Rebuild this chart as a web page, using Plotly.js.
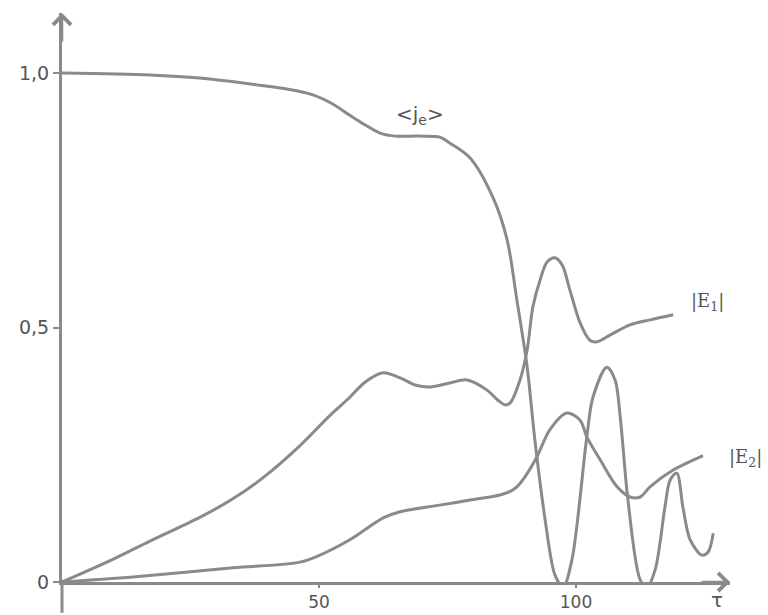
<!DOCTYPE html>
<html>
<head>
<meta charset="utf-8">
<script src="https://cdn.plot.ly/plotly-3.0.1.min.js"></script>
<style>html,body{margin:0;padding:0;background:#fff;}#chart{width:768px;height:615px;}</style>
</head>
<body>
<div id="chart"></div>
<script>
// <j_e> curve
const tauJe = [0, 17.1, 26.8, 38.5, 44.0, 48.8, 52.5, 56.0, 59.0, 61.9, 64.8, 69.6, 73.5, 75.5, 79.4, 83.9, 86.6, 88.5, 90.5, 92.0, 94.0, 95.9, 97.5, 99.2, 102.1, 103.3, 106.0, 107.6, 108.6, 109.2, 110.0, 112.5, 113.8, 115.4, 117.3, 118.3, 119.6, 120.8, 122.2, 124.5, 125.7, 126.7];
const je    = [1.0, 0.996, 0.99, 0.976, 0.968, 0.957, 0.94, 0.917, 0.898, 0.882, 0.876, 0.876, 0.874, 0.862, 0.833, 0.754, 0.672, 0.554, 0.422, 0.279, 0.122, 0.014, -0.01, 0.043, 0.285, 0.363, 0.422, 0.397, 0.324, 0.259, 0.171, 0.004, -0.01, 0.024, 0.147, 0.20, 0.214, 0.147, 0.083, 0.053, 0.059, 0.096];
// |E1| curve
const tauE1 = [0, 10.0, 17.0, 27.0, 33.0, 39.0, 46.0, 52.0, 56.0, 59.0, 62.5, 65.8, 68.7, 71.6, 75.5, 78.8, 82.7, 84.7, 86.2, 87.2, 89.1, 90.5, 91.6, 93.0, 94.4, 95.9, 97.3, 98.8, 100.8, 102.7, 104.1, 106.6, 110.5, 114.4, 118.9];
const e1    = [0, 0.045, 0.08, 0.128, 0.162, 0.204, 0.265, 0.326, 0.363, 0.393, 0.411, 0.401, 0.387, 0.383, 0.391, 0.397, 0.377, 0.358, 0.348, 0.352, 0.397, 0.456, 0.540, 0.593, 0.629, 0.637, 0.623, 0.574, 0.509, 0.475, 0.472, 0.485, 0.505, 0.515, 0.525];
// |E2| curve
const tauE2 = [0, 13.8, 33.3, 46.3, 50.2, 56.0, 62.5, 65.8, 73.5, 79.4, 85.2, 87.0, 88.5, 90.1, 92.4, 94.9, 98.2, 100.8, 102.1, 104.7, 108.0, 110.5, 112.5, 114.4, 118.9, 124.2, 124.7];
const e2    = [0, 0.01, 0.028, 0.039, 0.053, 0.083, 0.126, 0.138, 0.151, 0.161, 0.171, 0.177, 0.187, 0.207, 0.246, 0.299, 0.332, 0.318, 0.285, 0.240, 0.187, 0.167, 0.167, 0.187, 0.220, 0.246, 0.248];
// axis ticks
const xTickVals = [50, 100];
const xTickText = ['50', '100'];
const yTickVals = [0, 0.5, 1.0];
const yTickText = ['0', '0,5', '1,0'];
const yCrossVals = [0.5, 1.0];

const grey = '#8a8a8a';
const txt = '#555';
const fnt = {family: 'DejaVu Sans', size: 19, color: txt};

function curve(x, y) {
  return {x: x, y: y, type: 'scatter', mode: 'lines',
    line: {color: grey, width: 3, shape: 'spline', smoothing: 0.9},
    hoverinfo: 'skip', showlegend: false, cliponaxis: false};
}

const data = [curve(tauJe, je), curve(tauE1, e1), curve(tauE2, e2)];

const layout = {
  width: 768, height: 615,
  margin: {l: 62, r: 38, t: 13, b: 33, pad: 0},
  paper_bgcolor: '#fff', plot_bgcolor: '#fff',
  showlegend: false,
  xaxis: {range: [0, 129.96], showgrid: false, zeroline: false,
    showline: true, linecolor: grey, linewidth: 3,
    tickvals: xTickVals, ticktext: xTickText, ticks: 'outside', ticklen: 3, tickwidth: 2, tickcolor: grey,
    tickfont: {family: 'DejaVu Sans', size: 17, color: txt}},
  yaxis: {range: [0, 1.1179], showgrid: false, zeroline: false,
    showline: true, linecolor: grey, linewidth: 3,
    tickvals: yTickVals, ticktext: yTickText, ticks: 'outside', ticklen: 6, tickwidth: 2, tickcolor: grey,
    tickfont: fnt},
  yaxis2: {range: [0, 1.1179], overlaying: 'y', side: 'left', showgrid: false, zeroline: false,
    showline: false, tickvals: yCrossVals, ticks: 'inside', ticklen: 5, tickwidth: 2, tickcolor: grey,
    showticklabels: false},
  shapes: [
    {type: 'line', xref: 'paper', yref: 'paper', x0: 0, x1: 0, y0: 0, y1: -0.054,
     line: {color: grey, width: 3}}
  ],
  annotations: [
    {xref: 'paper', yref: 'paper', x: 0, y: 1, ax: 0, ay: 30, text: '', showarrow: true,
     arrowhead: 4, arrowsize: 1.4, arrowwidth: 2.5, arrowcolor: grey},
    {xref: 'paper', yref: 'paper', x: 1, y: 0, ax: -30, ay: 0, text: '', showarrow: true,
     arrowhead: 4, arrowsize: 1.4, arrowwidth: 2.5, arrowcolor: grey},
    {xref: 'paper', yref: 'paper', x: 0.536, y: 0.821, text: '&lt;j<sub>e</sub>&gt;', showarrow: false,
     xanchor: 'center', yanchor: 'middle', font: {family: 'DejaVu Sans', size: 20, color: txt}},
    {xref: 'paper', yref: 'paper', x: 0.9656, y: 0.492, text: '|E<sub>1</sub>|', showarrow: false,
     xanchor: 'center', yanchor: 'middle', font: {family: 'DejaVu Serif', size: 18, color: txt}},
    {xref: 'paper', yref: 'paper', x: 1.0225, y: 0.218, text: '|E<sub>2</sub>|', showarrow: false,
     xanchor: 'center', yanchor: 'middle', font: {family: 'DejaVu Serif', size: 18, color: txt}},
    {xref: 'paper', yref: 'paper', x: 0.9805, y: -0.0316, text: 'τ', showarrow: false,
     xanchor: 'center', yanchor: 'middle', font: {family: 'DejaVu Sans', size: 20, color: txt}}
  ]
};

Plotly.newPlot('chart', data, layout, {displayModeBar: false, staticPlot: true});
</script>
</body>
</html>
